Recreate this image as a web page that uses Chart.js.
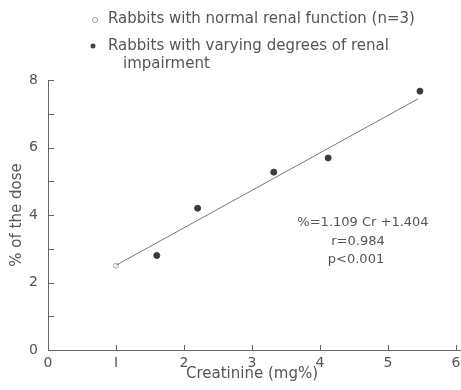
<!DOCTYPE html>
<html><head><meta charset="utf-8">
<script src="https://cdn.jsdelivr.net/npm/chart.js@4/dist/chart.umd.min.js"></script>
<style>html,body{margin:0;padding:0;background:#fff}#wrap{width:461px;height:390px}</style>
</head><body><div id="wrap"><canvas id="c" width="461" height="390"></canvas></div>
<script>
const normalX = [1.0];
const normalY = [2.5];
const impairedX = [1.6, 2.2, 3.32, 4.12, 5.47];
const impairedY = [2.8, 4.2, 5.27, 5.69, 7.67];
const fitX = [1.0, 5.44];
const fitY = [2.51, 7.44];
const xTicks = [0, 1, 2, 3, 4, 5, 6];
const yTicks = [0, 1, 2, 3, 4, 5, 6, 7, 8];
const yLabels = {0:'0',2:'2',4:'4',6:'6',8:'8'};
const legendLines = ['Rabbits with normal renal function (n=3)', 'Rabbits with varying degrees of renal', 'impairment'];
const statLines = ['%=1.109 Cr +1.404', 'r=0.984', 'p<0.001'];

const INK = '#555';
const FONT = '"DejaVu Sans", sans-serif';
const toPts = (xs, ys) => xs.map((x, i) => ({x, y: ys[i]}));

const decor = {
  id: 'decor',
  afterDraw(chart) {
    const ctx = chart.ctx, xs = chart.scales.x, ys = chart.scales.y;
    ctx.save();
    ctx.strokeStyle = '#666'; ctx.lineWidth = 1;
    ctx.beginPath(); ctx.moveTo(xs.right, ys.bottom + 0.5); ctx.lineTo(chart.width, ys.bottom + 0.5); ctx.stroke();
    xTicks.forEach(v => {
      const px = Math.round(xs.getPixelForValue(v)) + 0.5;
      ctx.beginPath(); ctx.moveTo(px, ys.bottom); ctx.lineTo(px, ys.bottom - 5); ctx.stroke();
    });
    yTicks.forEach(v => {
      const py = Math.round(ys.getPixelForValue(v)) + 0.5;
      ctx.beginPath(); ctx.moveTo(xs.left, py); ctx.lineTo(xs.left + 6, py); ctx.stroke();
    });
    ctx.fillStyle = INK; ctx.font = '15px ' + FONT; ctx.textBaseline = 'middle'; ctx.textAlign = 'left';
    ctx.fillText(legendLines[0], 108, 19);
    ctx.fillText(legendLines[1], 108, 46);
    ctx.fillText(legendLines[2], 123, 64);
    ctx.beginPath(); ctx.arc(95, 20, 2.5, 0, Math.PI * 2); ctx.strokeStyle = '#999'; ctx.stroke();
    ctx.beginPath(); ctx.arc(93, 46, 2.5, 0, Math.PI * 2); ctx.fillStyle = '#444'; ctx.fill();
    ctx.fillStyle = INK; ctx.font = '13px ' + FONT; ctx.textAlign = 'center';
    ctx.fillText(statLines[0], 363, 223);
    ctx.fillText(statLines[1], 358, 242);
    ctx.fillText(statLines[2], 356, 260);
    ctx.restore();
  }
};

new Chart(document.getElementById('c'), {
  type: 'scatter',
  data: {
    datasets: [
      { label: 'fit', data: toPts(fitX, fitY), showLine: true, borderColor: '#777', borderWidth: 1, pointRadius: 0 },
      { label: 'normal', data: toPts(normalX, normalY), pointRadius: 2.5, pointBackgroundColor: '#fff', pointBorderColor: '#aaa', pointBorderWidth: 1 },
      { label: 'impaired', data: toPts(impairedX, impairedY), pointRadius: 3, pointBackgroundColor: '#3a3a3a', pointBorderColor: '#3a3a3a' }
    ]
  },
  options: {
    responsive: false, animation: false, devicePixelRatio: 1,
    layout: { padding: { top: 80, right: 0, left: 0, bottom: 0 } },
    plugins: { legend: { display: false }, tooltip: { enabled: false } },
    scales: {
      x: {
        type: 'linear', min: 0, max: 6,
        afterFit: s => { s.height = 40; s.paddingRight = 0; s.paddingLeft = 0; },
        grid: { display: false, drawTicks: false, tickLength: 0 },
        border: { display: true, color: '#666', width: 1 },
        ticks: { stepSize: 1, padding: 5, color: INK, font: { family: FONT, size: 14 }, maxRotation: 0,
          callback: v => (v === 1 ? 'I' : String(v)) },
        title: { display: true, text: 'Creatinine (mg%)', color: INK, font: { family: FONT, size: 15 }, padding: { top: 0, bottom: 7 } }
      },
      y: {
        type: 'linear', min: 0, max: 8,
        afterFit: s => { s.width = 48; },
        grid: { display: false, drawTicks: false, tickLength: 0 },
        border: { display: true, color: '#666', width: 1 },
        ticks: { stepSize: 1, padding: 10, color: INK, font: { family: FONT, size: 14 },
          callback: v => (yLabels[v] !== undefined ? yLabels[v] : '') },
        title: { display: true, text: '% of the dose', color: INK, font: { family: FONT, size: 15 }, padding: { top: 8, bottom: 0 } }
      }
    }
  },
  plugins: [decor]
});
</script></body></html>
